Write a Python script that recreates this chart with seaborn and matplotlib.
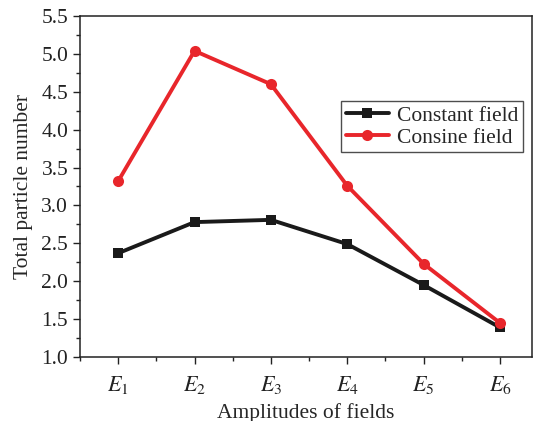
import numpy as np
import pandas as pd
import matplotlib
matplotlib.use("Agg")
import matplotlib.pyplot as plt
import seaborn as sns
from matplotlib.ticker import MultipleLocator, FormatStrFormatter

# data
fields = ["E1", "E2", "E3", "E4", "E5", "E6"]
tick_labels = ["$E_1$", "$E_2$", "$E_3$", "$E_4$", "$E_5$", "$E_6$"]
constant_field = [2.37, 2.78, 2.81, 2.49, 1.95, 1.39]
consine_field = [3.32, 5.04, 4.60, 3.26, 2.23, 1.45]

sns.set_style("ticks")
plt.rcParams["font.family"] = ["Liberation Serif", "DejaVu Serif"]
plt.rcParams["mathtext.fontset"] = "stix"

x = list(range(len(fields)))

fig = plt.figure(figsize=(5.33, 4.21), dpi=100)
ax = fig.add_axes([80 / 533, (421 - 357) / 421, (532 - 80) / 533, (357 - 16) / 421])

# two calls so each series can keep its own marker size
sns.lineplot(x=x, y=constant_field, color="#1a1a1a", marker="s",
             linewidth=2.8, markersize=6.5, markeredgewidth=0,
             label="Constant field", ax=ax)
sns.lineplot(x=x, y=consine_field, color="#e8262b", marker="o",
             linewidth=2.8, markersize=8, markeredgewidth=0,
             label="Consine field", ax=ax)

ax.set_xlim(-0.5, 5.42)
ax.set_ylim(1.0, 5.5)
ax.set_xticks(x)
ax.set_xticklabels(tick_labels)
ax.xaxis.set_minor_locator(MultipleLocator(0.5))
ax.yaxis.set_major_locator(MultipleLocator(0.5))
ax.yaxis.set_minor_locator(MultipleLocator(0.25))
ax.yaxis.set_major_formatter(FormatStrFormatter("%.1f"))
ax.tick_params(which="major", direction="out", length=5, width=1, labelsize=15.5, colors="#222222")
ax.tick_params(which="minor", direction="out", length=3, width=1, colors="#222222")
ax.tick_params(axis="x", pad=7, labelsize=16)
for s in ax.spines.values():
    s.set_linewidth(1.1)
    s.set_color("#222222")

ax.set_xlabel("Amplitudes of fields", fontsize=15.5, labelpad=5)
ax.set_ylabel("Total particle number", fontsize=15.5, labelpad=6)

leg = ax.legend(loc="upper right", bbox_to_anchor=(0.98, 0.75), fontsize=15.5,
                frameon=True, fancybox=False, edgecolor="#222222",
                handlelength=2.0, borderpad=0.2, labelspacing=0.1,
                handletextpad=0.4, borderaxespad=0)
leg.get_frame().set_linewidth(1.0)

fig.savefig("out.png", dpi=100)
